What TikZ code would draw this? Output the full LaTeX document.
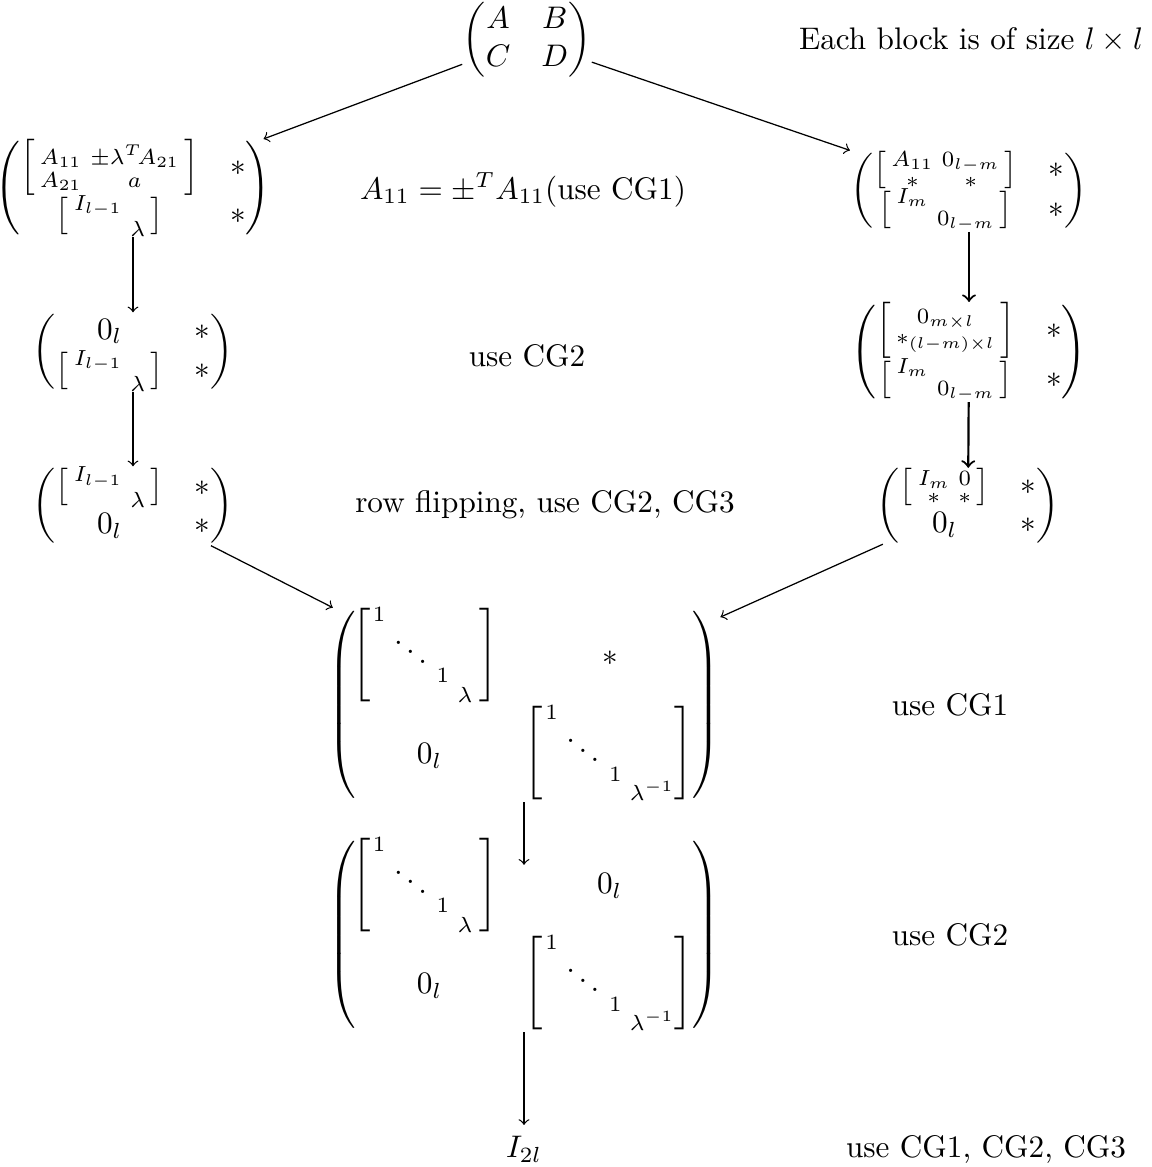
\documentclass[tikz,border=0pt]{standalone}
\usepackage{amsmath}
\newcommand{\dblk}[2]{\left[\vcenter{\hbox{\setlength{\unitlength}{1pt}\begin{picture}(#1,28)
\put(0.8,24.7){$\scriptstyle 1$}
\put(7,10.4){$\ddots$}
\put(21.2,5.1){$\scriptstyle 1$}
\put(27.9,-1.1){$\scriptstyle #2$}
\end{picture}}}\right]}
\newcommand{\bigmat}[3]{\left(\vcenter{\hbox{\setlength{\unitlength}{1pt}\begin{picture}(108,62)
\put(22.3,47){\makebox(0,0){$\dblk{35}{\lambda}$}}
\put(81.2,15.5){\makebox(0,0){$\dblk{42.3}{\lambda^{-1}}$}}
\put(#2,#3){$#1$}
\put(19.7,12.1){$0_l$}
\end{picture}}}\right)}
\tikzset{mat/.style={inner sep=0pt}, lbl/.style={inner sep=0pt}, arr/.style={->}, arrthick/.style={->, line width=0.7pt}}
\begin{document}
\begin{tikzpicture}[x=0.3205pt,y=-0.3205pt]
\useasboundingbox (0,0) rectangle (1152,1167);
\node[mat] (T) at (527,40) {$\begin{pmatrix} A & B\\ C & D\end{pmatrix}$};
\node[lbl] (EB) at (971,40) {Each block is of size $l\times l$};
\node[mat] (L1) at (133,188) {$\begin{pmatrix}\Bigl[\begin{smallmatrix}A_{11} & \pm\lambda^{T}\!A_{21}\\ A_{21} & a\end{smallmatrix}\Bigr] & *\\ \bigl[\begin{smallmatrix}I_{l-1} & \\ & \lambda\end{smallmatrix}\bigr] & *\end{pmatrix}$};
\node[lbl] (t1) at (523,190) {$A_{11}=\pm^{T}A_{11}(\text{use CG1})$};
\node[mat] (R1) at (969,191) {$\begin{pmatrix}\bigl[\begin{smallmatrix}A_{11} & 0_{l-m}\\ * & *\end{smallmatrix}\bigr] & *\\ \bigl[\begin{smallmatrix}I_m & \\ & 0_{l-m}\end{smallmatrix}\bigr] & *\end{pmatrix}$};
\node[mat] (L2) at (133,352) {$\begin{pmatrix}0_l & *\\ \bigl[\begin{smallmatrix}I_{l-1} & \\ & \lambda\end{smallmatrix}\bigr] & *\end{pmatrix}$};
\node[lbl] (t2) at (527,356) {use CG2};
\node[mat] (R2) at (969,352) {$\begin{pmatrix}\Bigl[\begin{smallmatrix}0_{m\times l}\\ *_{(l-m)\times l}\end{smallmatrix}\Bigr] & *\\ \bigl[\begin{smallmatrix}I_m & \\ & 0_{l-m}\end{smallmatrix}\bigr] & *\end{pmatrix}$};
\node[mat] (L3) at (133,506) {$\begin{pmatrix}\bigl[\begin{smallmatrix}I_{l-1} & \\ & \lambda\end{smallmatrix}\bigr] & *\\ 0_l & *\end{pmatrix}$};
\node[lbl] (t3) at (545,505) {row flipping, use CG2, CG3};
\node[mat] (R3) at (968,506) {$\begin{pmatrix}\bigl[\begin{smallmatrix}I_m & 0\\ * & *\end{smallmatrix}\bigr] & *\\ 0_l & *\end{pmatrix}$};
\node[mat] (B1) at (524,705) {$\bigmat{*}{79}{43.8}$};
\node[lbl] (t4) at (950,705) {use CG1};
\node[mat] (B2) at (524,935) {$\bigmat{0_l}{77.4}{44.3}$};
\node[lbl] (t5) at (950,935) {use CG2};
\node (I) at (524,1149) {$I_{2l}$};
\node[lbl,anchor=base] (t6) at (986,1157) {use CG1, CG2, CG3};
\draw[arr] (T) -- (L1);
\draw[arr] (T) -- (R1);
\draw[arr] (L1) -- (L2);
\draw[arr] (L2) -- (L3);
\draw[arrthick] (R1) -- (R2);
\draw[arrthick] (R2) -- (R3);
\draw[arr] (L3) -- (B1);
\draw[arr] (R3) -- (B1);
\draw[arr,shorten >=-8.7pt] (B1) -- (B2);
\draw[arr] (B2) -- (I);
\end{tikzpicture}
\end{document}
